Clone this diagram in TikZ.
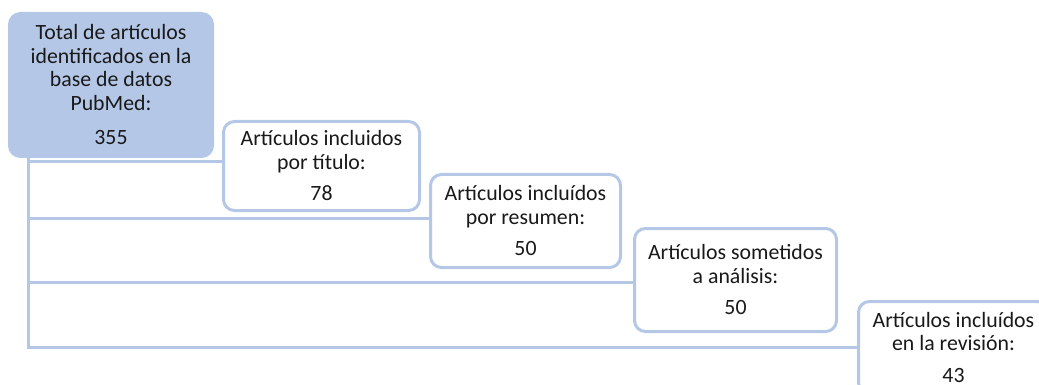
\documentclass[tikz,border=0pt]{standalone}
\usepackage{fontspec}
\setmainfont{Carlito}
\usetikzlibrary{backgrounds}
\definecolor{lblue}{HTML}{B4C7E7}
\begin{document}
\begin{tikzpicture}[x=1pt,y=-1pt,
  box/.style={draw=lblue, line width=3pt, rounded corners=11pt, fill=white,
    anchor=north west, align=center, inner sep=0pt, text=black!90,
    font=\fontsize{21.8}{23.5}\selectfont},
  conn/.style={draw=lblue, line width=3pt}]
\useasboundingbox (0,0) rectangle (1039,385);
\node[box, fill=lblue, minimum width=203pt, minimum height=143pt] (b1) at (8,12)
  {Total de artículos\\identificados en la\\base de datos\\PubMed:\\[11pt]355};
\node[box, minimum width=196pt, minimum height=89pt] (b2) at (222,120)
  {Artículos incluidos\\por título:\\[8pt]78};
\node[box, minimum width=190pt, minimum height=93pt] (b3) at (429,173)
  {Artículos incluídos\\por resumen:\\[8pt]50};
\node[box, minimum width=202pt, minimum height=103pt] (b4) at (633,227)
  {Artículos sometidos\\a análisis:\\[8pt]50};
\node[box, minimum width=190pt, minimum height=92pt] (b5) at (857,300)
  {Artículos incluídos\\en la revisión:\\[8pt]43};
\coordinate (trunk) at (28,150);
\coordinate (h1) at (0,162);
\coordinate (h2) at (0,218);
\coordinate (h3) at (0,282);
\coordinate (h4) at (0,347);
\begin{scope}[on background layer]
\path[conn] (trunk) |- (b2.west |- h1);
\path[conn] (trunk) |- (b3.west |- h2);
\path[conn] (trunk) |- (b4.west |- h3);
\path[conn] (trunk) |- (b5.west |- h4);
\end{scope}
\end{tikzpicture}
\end{document}
